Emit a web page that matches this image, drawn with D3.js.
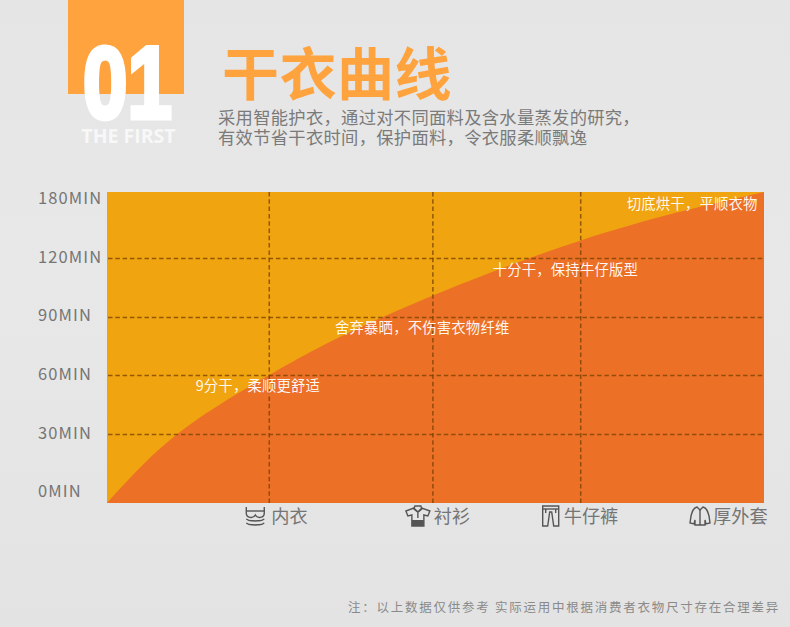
<!DOCTYPE html>
<html><head><meta charset="utf-8">
<script src="https://cdn.jsdelivr.net/npm/d3@7"></script>
<style>
html,body{margin:0;padding:0;background:#e6e6e6;overflow:hidden}
svg{display:block}
text{font-family:"Noto Sans CJK SC","Noto Sans",sans-serif}
</style></head><body><svg id="c" width="790" height="627"></svg>
<script>
const minuteTicks = [0, 30, 60, 90, 120, 180];
const curveProgress = [0, 10.7, 24.7, 42, 72.1, 100];
const curveMinutes  = [0, 30, 60, 90, 136, 180];
const garments = ["内衣", "衬衫", "牛仔裤", "厚外套"];
const garmentProgress = [24.7, 49.6, 72.1, 100];
const notes = ["9分干\uFF0C柔顺更舒适", "舍弃暴晒\uFF0C不伤害衣物纤维", "十分干\uFF0C保持牛仔版型", "切底烘干\uFF0C平顺衣物"];
const noteProgress = [13.5, 34.7, 58.7, 79.1];
const noteMinutes = [51.9, 81.7, 111.4, 164.5];
const subtitle = ["采用智能护衣\uFF0C通过对不同面料及含水量蒸发的研究\uFF0C", "有效节省干衣时间\uFF0C保护面料\uFF0C令衣服柔顺飘逸"];

const svg = d3.select("#c");
const L = 107, R = 764, T = 192, B = 503;
const x = d3.scaleLinear().domain([0, 100]).range([L, R]);
const y = d3.scaleLinear().domain(minuteTicks).range([B, 434, 375, 317, 258, T]);

const defs = svg.append("defs");
const bg = defs.append("linearGradient").attr("id", "bg").attr("x2", 0).attr("y2", 1);
bg.append("stop").attr("offset", 0).attr("stop-color", "#e5e5e5");
bg.append("stop").attr("offset", .45).attr("stop-color", "#e8e8e8");
bg.append("stop").attr("offset", 1).attr("stop-color", "#e3e3e3");
svg.append("rect").attr("width", 790).attr("height", 627).attr("fill", "url(#bg)");

// header
svg.append("rect").attr("x", 68).attr("y", 0).attr("width", 116).attr("height", 94).attr("fill", "#ffa33f");
svg.append("text").text("01").attr("x", 0).attr("y", 0)
  .attr("transform", "translate(83,118) scale(0.76,0.97)")
  .attr("fill", "#fff").attr("font-size", 105).attr("font-weight", 700)
  .style("font-family", '"Liberation Sans",sans-serif').style("stroke", "#fff").style("stroke-width", 5);
svg.append("text").text("THE FIRST").attr("x", 128.5).attr("y", 142.5).attr("text-anchor", "middle")
  .attr("fill", "#fff").attr("fill-opacity", .72).attr("font-size", 19.5).attr("font-weight", 700)
  .style("font-family", '"Open Sans",sans-serif');
svg.append("text").text("干衣曲线").attr("x", 222).attr("y", 95)
  .attr("fill", "#ffa33f").attr("font-size", 57).attr("font-weight", 700).style("letter-spacing", "0.5px");
svg.selectAll("text.sub").data(subtitle).join("text").attr("class", "sub").text(d => d)
  .attr("x", 218).attr("y", (d, i) => 123.5 + i * 20.5)
  .attr("fill", "#7a7a7a").attr("font-size", 17.3).style("letter-spacing", "0.3px");

// plot
svg.append("rect").attr("x", L).attr("y", T).attr("width", R - L).attr("height", B - T).attr("fill", "#f0a410");
const curve = d3.area().x((d, i) => x(curveProgress[i])).y0(B).y1(d => y(d)).curve(d3.curveNatural);
svg.append("path").datum(curveMinutes).attr("d", curve).attr("fill", "#ec7026");

const dash = g => g.attr("stroke", "#7a4300").attr("stroke-opacity", .78).attr("stroke-width", 1.5).attr("stroke-dasharray", "4.5 2.8");
svg.append("g").selectAll("line").data(minuteTicks.slice(1, 5)).join("line")
  .attr("x1", L + 1).attr("x2", R).attr("y1", d => y(d) + .5).attr("y2", d => y(d) + .5).call(dash);
svg.append("g").selectAll("line").data(garmentProgress.slice(0, 3)).join("line")
  .attr("x1", d => x(d)).attr("x2", d => x(d)).attr("y1", T).attr("y2", B).call(dash);

// y axis
const labelDy = {0: -12, 30: -1, 60: -1, 90: -2, 120: -1, 180: 6};
const yAxis = svg.append("g").attr("transform", `translate(${L},0)`)
  .call(d3.axisLeft(y).tickValues(minuteTicks).tickSize(0).tickFormat(d => d + "MIN"));
yAxis.select(".domain").remove();
yAxis.selectAll("text").attr("x", 38 - L).attr("text-anchor", "start")
  .attr("dy", d => (labelDy[d] + 5.5) + "px")
  .attr("fill", "#757575").attr("font-size", 16.5).style("letter-spacing", "1.1px");

// notes
svg.selectAll("text.note").data(notes).join("text").attr("class", "note").text(d => d)
  .attr("x", (d, i) => x(noteProgress[i])).attr("y", (d, i) => y(noteMinutes[i]))
  .attr("fill", "#fff").attr("fill-opacity", .95).attr("font-size", 14.4).style("letter-spacing", "0.15px");

// garments
const labelOffset = [2, 1, -17, -51];
const iconCenter = [-14, -15, -30, -64];
svg.selectAll("text.cat").data(garments).join("text").attr("class", "cat").text(d => d)
  .attr("x", (d, i) => x(garmentProgress[i]) + labelOffset[i]).attr("y", 522.5)
  .attr("fill", "#757575").attr("font-size", 18.2);

const icons = [
  ["M-9,-9 V-3 C-9,2 -2,3 0,-1 C2,3 9,2 9,-3 V-9", "M-9,-5 H9", "M-9,3 C-5,6 -3,4 0,5 C3,4 5,6 9,3", "M-9,7 C-5,10 -3,8 0,9 C3,8 5,10 9,7"],
  ["M-4,-8 L-12,-5 L-10,0 L-6,-1 V10 H6 V-1 L10,0 L12,-5 L4,-8 L0,-4 Z", "M-3,-10 H3 L4,-7 L0,-4 L-4,-7 Z", "M0,-3 V2"],
  ["M-8,-10 H8 V10 H3 L1,-4 H-1 L-3,10 H-8 Z", "M-8,-7 H8", "M-5,-7 V-3", "M5,-7 V-3"],
  ["M-3,-9 C-7,-8 -8,-4 -9,0 L-10,7 L-6,8 L-5,4 V9 H5 V4 L6,8 L10,7 L9,0 C8,-4 7,-8 3,-9 L0,-6 Z", "M0,-6 V9"]
];
const iconG = svg.selectAll("g.icon").data(icons).join("g").attr("class", "icon")
  .attr("transform", (d, i) => `translate(${x(garmentProgress[i]) + iconCenter[i]},516)`);
iconG.selectAll("path").data(d => d).join("path").attr("d", d => d)
  .attr("fill", "none").attr("stroke", "#555").attr("stroke-width", 1.4);
svg.append("rect").attr("x", x(garmentProgress[1]) - 21).attr("y", 520).attr("width", 12).attr("height", 6).attr("fill", "#555");

// footnote
svg.append("text").text("注\uFF1A以上数据仅供参考 实际运用中根据消费者衣物尺寸存在合理差异")
  .attr("x", 348).attr("y", 612).attr("fill", "#8a8a8a").attr("font-size", 12.5).style("letter-spacing", "1.75px");
</script></body></html>
